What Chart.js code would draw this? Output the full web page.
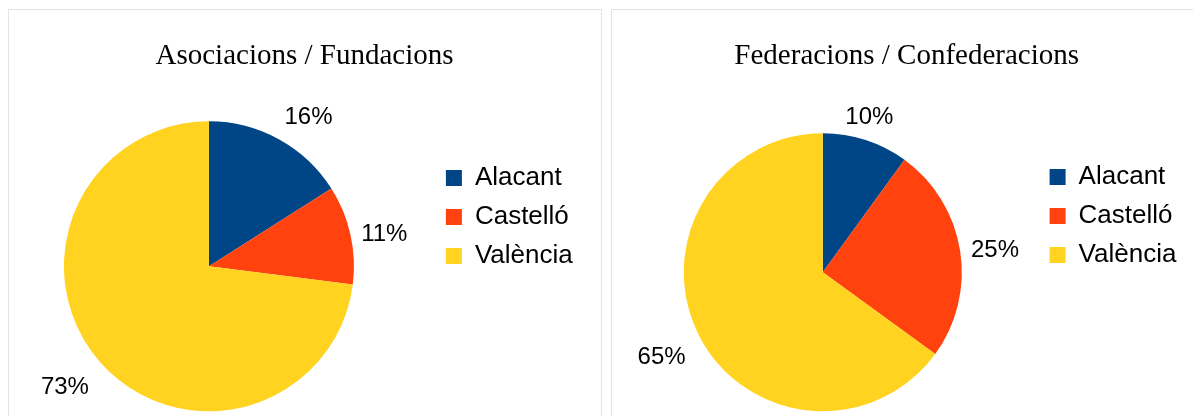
<!DOCTYPE html>
<html><head><meta charset="utf-8">
<script src="https://cdn.jsdelivr.net/npm/chart.js@4"></script>
<style>
html,body{margin:0;padding:0;background:#fff;width:1193px;height:416px;overflow:hidden;position:relative}
.panel{position:absolute;box-sizing:border-box;border:1px solid #e3e3e3;pointer-events:none}
canvas{position:absolute}
</style></head><body>
<div class="panel" style="left:8px;top:9px;width:594px;height:420px"></div>
<div class="panel" style="left:611px;top:9px;width:592px;height:420px"></div>
<canvas id="c1" width="620" height="406" style="left:-15px;top:10px"></canvas>
<canvas id="c2" width="600" height="406" style="left:609px;top:10px"></canvas>
<script>
const categories = ['Alacant', 'Castelló', 'València'];
const asociacionsValues = [16, 11, 73];
const federacionsValues = [10, 25, 65];
const chartTitles = ['Asociacions / Fundacions', 'Federacions / Confederacions'];

const sliceColors = ['#004586', '#ff420e', '#ffd320'];

const pctLabels = {
  id: 'pctLabels',
  afterDatasetsDraw(chart, args, opts) {
    const ctx = chart.ctx;
    const meta = chart.getDatasetMeta(0);
    const data = chart.data.datasets[0].data;
    const total = data.reduce((a, b) => a + b, 0);
    const lim = Math.sin(Math.PI / 8);
    const asc = opts.size * 0.905, desc = opts.size * 0.212, boxH = asc + desc;
    ctx.save();
    ctx.font = opts.size + 'px ' + opts.family;
    ctx.fillStyle = opts.color;
    meta.data.forEach((arc, i) => {
      const p = arc.getProps(['x', 'y', 'startAngle', 'endAngle', 'outerRadius'], true);
      const a = (p.startAngle + p.endAngle) / 2;
      const c = Math.cos(a), s = Math.sin(a);
      const hAlign = Math.abs(c) < lim ? 'center' : (c > 0 ? 'left' : 'right');
      const vAlign = Math.abs(s) < lim ? 'middle' : (s < 0 ? 'bottom' : 'top');
      const gap = opts.gap[vAlign];
      const ax = p.x + (p.outerRadius + gap) * c;
      const ay = p.y + (p.outerRadius + gap) * s;
      let by;
      if (vAlign === 'top') by = ay + asc;
      else if (vAlign === 'bottom') by = ay - desc;
      else by = ay + asc - boxH / 2;
      ctx.textAlign = hAlign;
      ctx.textBaseline = 'alphabetic';
      ctx.fillText(Math.round(data[i] / total * 100) + '%', ax, by);
    });
    ctx.restore();
  }
};

const panelTitle = {
  id: 'panelTitle',
  afterDraw(chart, args, opts) {
    const ctx = chart.ctx;
    ctx.save();
    ctx.font = opts.font;
    ctx.fillStyle = opts.color;
    ctx.textAlign = 'center';
    ctx.textBaseline = 'alphabetic';
    ctx.fillText(opts.text, opts.x, opts.y);
    ctx.restore();
  }
};

function makePie(id, title, values, cfg) {
  return new Chart(document.getElementById(id), {
    type: 'pie',
    data: {
      labels: categories,
      datasets: [{
        data: values,
        backgroundColor: sliceColors,
        borderWidth: 0,
        radius: cfg.radius,
        clip: false
      }]
    },
    options: {
      responsive: false,
      animation: false,
      events: [],
      layout: { padding: cfg.padding },
      plugins: {
        title: { display: false },
        tooltip: { enabled: false },
        legend: {
          display: true,
          position: 'right',
          align: 'start',
          fullSize: false,
          labels: {
            boxWidth: 16,
            boxHeight: 16,
            padding: 13,
            color: '#000000',
            font: { family: '"Liberation Sans", Arial, sans-serif', size: 26 }
          }
        },
        pctLabels: {
          family: '"Liberation Sans", Arial, sans-serif',
          size: 24,
          color: '#000000',
          gap: { top: 15, bottom: 11.7, middle: 11 }
        },
        panelTitle: {
          text: title,
          font: '29px "Liberation Serif", "Times New Roman", serif',
          color: '#000000',
          x: cfg.titleX,
          y: 54
        }
      }
    },
    plugins: [pctLabels, panelTitle]
  });
}

makePie('c1', chartTitles[0], asociacionsValues, {
  radius: 145,
  padding: { left: 0, top: 142, right: 22.3, bottom: 35.4 },
  titleX: 319.5
});
makePie('c2', chartTitles[1], federacionsValues, {
  radius: 139,
  padding: { left: 0, top: 141, right: 22.6, bottom: 22.4 },
  titleX: 297.7
});
</script>
</body></html>
